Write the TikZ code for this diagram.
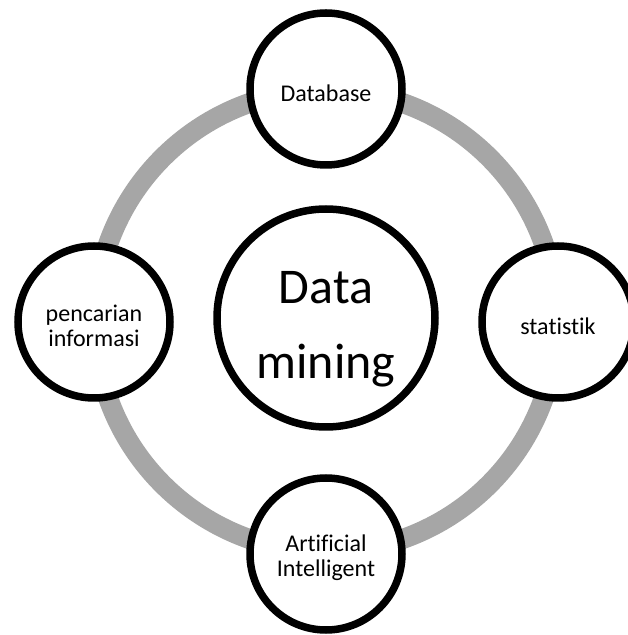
\documentclass[tikz,border=0pt]{standalone}
\usepackage{fontspec}
\setmainfont[Ligatures=NoCommon]{Carlito}
\definecolor{ringgray}{HTML}{A6A6A6}
\tikzset{
  bulat/.style={circle,draw=black,fill=white,line width=7.5pt,inner sep=0pt,
    align=center,minimum size=152pt,text height=26pt,
    font=\fontsize{24}{25}\selectfont},
  duabaris/.style={text height=50pt},
  pusat/.style={bulat,minimum size=218pt,text height=130pt,
    font=\fontsize{50}{75}\selectfont}
}
\begin{document}
\begin{tikzpicture}[x=1pt,y=1pt]
\useasboundingbox (0,0) rectangle (628,635);
\coordinate (tengah) at (326,314);
\draw[ringgray,line width=20pt] (tengah) circle (231);
%
\node[pusat] (mining) at (326,317) {Data\\mining};
%
\node[bulat] (db) at (326,546) {Database};
\node[bulat] (stat) at (558,313) {statistik};
\node[bulat,duabaris] (ai) at (326,81) {Artificial\\Intelligent};
\node[bulat,duabaris] (info) at (94,313) {pencarian\\informasi};
%
\end{tikzpicture}
\end{document}
